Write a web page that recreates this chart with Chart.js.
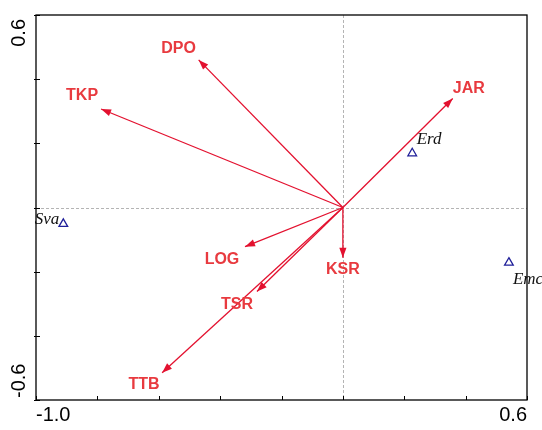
<!DOCTYPE html>
<html>
<head>
<meta charset="utf-8">
<script src="https://cdn.jsdelivr.net/npm/chart.js@4.4.1/dist/chart.umd.min.js"></script>
<style>
  body { margin: 0; background: #fff; }
  canvas { display: block; }
</style>
</head>
<body>
<canvas id="ordination" width="542" height="430"></canvas>
<script>
// environmental variables (arrows from the origin)
var envNames = ['DPO', 'TKP', 'JAR', 'LOG', 'KSR', 'TSR', 'TTB'];
var envX = [-0.470, -0.788, 0.358, -0.319, 0.000, -0.280, -0.589];
var envY = [0.460, 0.307, 0.340, -0.122, -0.157, -0.262, -0.515];

// species scores
var spNames = ['Erd', 'Emc', 'Sva'];
var spX = [0.226, 0.541, -0.911];
var spY = [0.169, -0.172, -0.051];

// axis tick values and the labels shown
var xTicks = [-1.0, -0.8, -0.6, -0.4, -0.2, 0.0, 0.2, 0.4, 0.6];
var yTicks = [-0.6, -0.4, -0.2, 0.0, 0.2, 0.4, 0.6];
var yTickLabels = ['-0.6', '0.6'];

var ARROW_COLOR = '#e3112f';
var LABEL_COLOR = '#e83a3f';
var SPECIES_COLOR = '#1f1f99';

// where each label sits relative to its arrow tip / triangle, in pixels
var envLabelOffset = {
    DPO: [-20, -11.5], TKP: [-19, -13], JAR: [16, -10], LOG: [-23, 12.5],
    KSR: [0, 11.5], TSR: [-20, 13], TTB: [-18, 11.5]
};
var spLabelOffset = {
    Erd: [4.5, -14, 'left'], Emc: [4, 17, 'left'], Sva: [-4, -4, 'right']
};

var datasets = [];
envNames.forEach(function(name, i) {
    datasets.push({
        label: name,
        data: [{x: 0, y: 0}, {x: envX[i], y: envY[i]}],
        showLine: true,
        borderColor: ARROW_COLOR,
        borderWidth: 1.3,
        pointRadius: 0,
        pointHoverRadius: 0
    });
});
datasets.push({
    label: 'species',
    data: spX.map(function(x, i) { return {x: x, y: spY[i]}; }),
    pointStyle: 'triangle',
    pointRadius: 5,
    pointBorderWidth: 1.3,
    borderColor: SPECIES_COLOR,
    backgroundColor: 'rgba(0,0,0,0)',
    showLine: false
});

var biplotPlugin = {
    id: 'biplot',
    beforeDatasetsDraw: function(chart) {
        var ctx = chart.ctx;
        var a = chart.chartArea;
        var x0 = chart.scales.x.getPixelForValue(0);
        var y0 = chart.scales.y.getPixelForValue(0);
        ctx.save();
        ctx.strokeStyle = '#b4b4b4';
        ctx.lineWidth = 1;
        ctx.setLineDash([3, 2]);
        ctx.beginPath();
        ctx.moveTo(Math.round(x0) + 0.5, a.top);
        ctx.lineTo(Math.round(x0) + 0.5, a.bottom);
        ctx.moveTo(a.left, Math.round(y0) + 0.5);
        ctx.lineTo(a.right, Math.round(y0) + 0.5);
        ctx.stroke();
        ctx.restore();
    },
    afterDatasetsDraw: function(chart) {
        var ctx = chart.ctx;
        var a = chart.chartArea;
        ctx.save();

        // arrowheads and variable labels
        envNames.forEach(function(name, i) {
            var pts = chart.getDatasetMeta(i).data;
            var sx = pts[0].x, sy = pts[0].y, tx = pts[1].x, ty = pts[1].y;
            var ang = Math.atan2(ty - sy, tx - sx);
            var len = 10, half = 3.6;
            ctx.fillStyle = ARROW_COLOR;
            ctx.beginPath();
            ctx.moveTo(tx, ty);
            ctx.lineTo(tx - len * Math.cos(ang) + half * Math.sin(ang), ty - len * Math.sin(ang) - half * Math.cos(ang));
            ctx.lineTo(tx - len * Math.cos(ang) - half * Math.sin(ang), ty - len * Math.sin(ang) + half * Math.cos(ang));
            ctx.closePath();
            ctx.fill();

            var off = envLabelOffset[name];
            ctx.font = 'bold 16px "Liberation Sans", Arial, sans-serif';
            ctx.fillStyle = LABEL_COLOR;
            ctx.textAlign = 'center';
            ctx.textBaseline = 'middle';
            ctx.fillText(name, tx + off[0], ty + off[1]);
        });

        // species labels
        var spMeta = chart.getDatasetMeta(envNames.length).data;
        spNames.forEach(function(name, i) {
            var off = spLabelOffset[name];
            ctx.font = 'italic 17px "Liberation Serif", "Times New Roman", serif';
            ctx.fillStyle = '#111';
            ctx.textAlign = off[2];
            ctx.textBaseline = 'middle';
            ctx.fillText(name, spMeta[i].x + off[0], spMeta[i].y + off[1]);
        });

        // frame
        ctx.strokeStyle = '#000';
        ctx.lineWidth = 1.3;
        ctx.setLineDash([]);
        ctx.strokeRect(a.left, a.top, a.right - a.left, a.bottom - a.top);

        // inward ticks
        ctx.lineWidth = 1;
        ctx.beginPath();
        xTicks.forEach(function(v) {
            var px = Math.round(chart.scales.x.getPixelForValue(v)) + 0.5;
            ctx.moveTo(px, a.bottom);
            ctx.lineTo(px, a.bottom - 4);
        });
        yTicks.forEach(function(v) {
            var py = Math.round(chart.scales.y.getPixelForValue(v)) + 0.5;
            ctx.moveTo(a.left - 2, py);
            ctx.lineTo(a.left + 4, py);
        });
        ctx.stroke();

        // rotated y labels at both ends
        ctx.font = '20px "Liberation Sans", Arial, sans-serif';
        ctx.fillStyle = '#000';
        ctx.textBaseline = 'middle';
        ctx.translate(19, 0);
        ctx.rotate(-Math.PI / 2);
        ctx.textAlign = 'left';
        ctx.fillText(yTickLabels[0], -(a.bottom - 2), 0);
        ctx.textAlign = 'right';
        ctx.fillText(yTickLabels[1], -(a.top + 4), 0);
        ctx.restore();
    }
};

new Chart(document.getElementById('ordination'), {
    type: 'scatter',
    data: { datasets: datasets },
    options: {
        responsive: false,
        animation: false,
        layout: { padding: { left: 36, right: 15, top: 15, bottom: 0 } },
        plugins: {
            legend: { display: false },
            tooltip: { enabled: false }
        },
        scales: {
            x: {
                type: 'linear',
                min: -1.0,
                max: 0.6,
                afterBuildTicks: function(scale) {
                    scale.ticks = xTicks.map(function(v) { return {value: v}; });
                },
                ticks: {
                    autoSkip: false,
                    maxRotation: 0,
                    align: 'inner',
                    padding: 3,
                    color: '#000',
                    font: { family: '"Liberation Sans", Arial, sans-serif', size: 20 },
                    callback: function(value, index, ticks) {
                        if (index === 0 || index === ticks.length - 1) {
                            return Number(value).toFixed(1);
                        }
                        return '';
                    }
                },
                grid: { display: false, drawTicks: false },
                border: { display: false }
            },
            y: {
                type: 'linear',
                display: false,
                min: -0.6,
                max: 0.6
            }
        }
    },
    plugins: [biplotPlugin]
});
</script>
</body>
</html>
